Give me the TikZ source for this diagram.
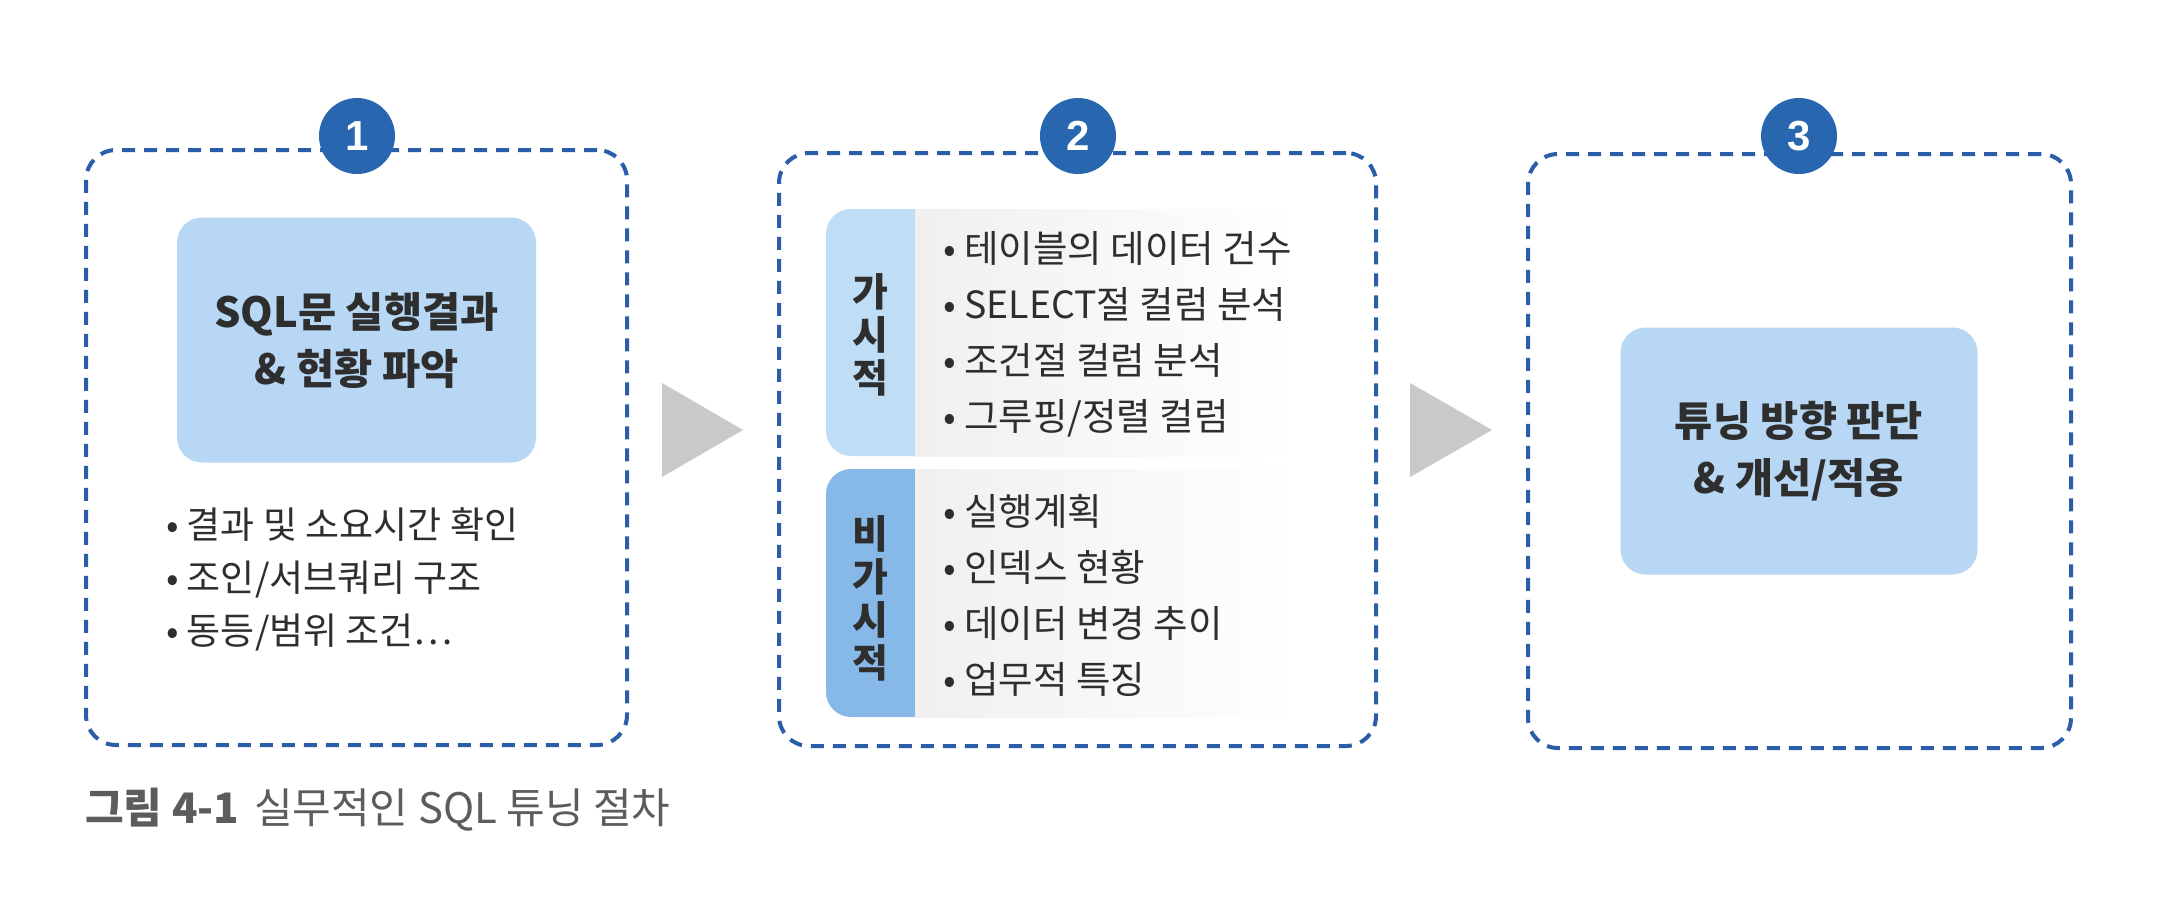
\documentclass[tikz,border=0pt]{standalone}
\usepackage{fontspec}
\setmainfont{Noto Sans CJK KR}
\newfontfamily\digitfont{Liberation Sans}
\definecolor{dashblue}{HTML}{2A5EA8}
\definecolor{numblue}{HTML}{2867B0}
\definecolor{boxblue}{HTML}{B7D7F4}
\definecolor{tabA}{HTML}{C0DDF6}
\definecolor{tabB}{HTML}{86B8E8}
\definecolor{arrowgray}{HTML}{C9C9C9}
\definecolor{txt}{HTML}{2E2E2E}
\definecolor{captgray}{HTML}{5C5C5C}
\newcommand{\bu}{•\hspace{0.22em}}
\begin{document}
\begin{tikzpicture}[x=1pt,y=-1pt,
  dashbox/.style={draw=dashblue, line width=4pt, dash pattern=on 13pt off 9pt, rounded corners=30pt, inner sep=0pt},
  numcircle/.style={circle, fill=numblue, minimum size=76pt, inner sep=0pt, text=white, font=\digitfont\bfseries\fontsize{42}{42}\selectfont},
  inbox/.style={rounded corners=25pt, fill=boxblue, align=center, inner sep=0pt, font=\bfseries\fontsize{41.5}{57}\selectfont, text=txt},
  bul/.style={anchor=west, align=left, text=txt, inner sep=0pt},
  tabtext/.style={align=center, inner sep=0pt, font=\bfseries\fontsize{39}{43}\selectfont, text=txt},
  arrowtri/.style={fill=arrowgray}]
\useasboundingbox (0,0) rectangle (2176,906);
\fill[white] (0,0) rectangle (2176,906);

% box 1
\node[dashbox, minimum width=541pt, minimum height=595pt] (box1) at (356.5,447.5) {};
\node[inbox, minimum width=359pt, minimum height=245pt] (t1) at (356.5,340) {SQL문 실행결과\\\& 현황 파악};
\node[bul, font=\fontsize{37}{53}\selectfont] (l1) at (166,579) {\bu 결과 및 소요시간 확인\\\bu 조인/서브쿼리 구조\\\bu 동등/범위 조건…};

% box 2
\node[dashbox, minimum width=597pt, minimum height=593pt] (box2) at (1077.5,449.5) {};
\fill[tabA, rounded corners=25pt] (826,209) rectangle (960,456);
\shade[left color=gray!12, right color=white] (915,209) rectangle (1300,456);
\fill[tabB, rounded corners=25pt] (826,469) rectangle (960,717);
\shade[left color=gray!12, right color=white] (915,469) rectangle (1300,717);
\node[tabtext] (ta) at (870,335) {가\\시\\적};
\node[tabtext] (tb) at (870,598) {비\\가\\시\\적};
\node[bul, font=\fontsize{37.5}{56}\selectfont] (la) at (943,334) {\bu 테이블의 데이터 건수\\\bu SELECT절 컬럼 분석\\\bu 조건절 컬럼 분석\\\bu 그루핑/정렬 컬럼};
\node[bul, font=\fontsize{37.5}{56}\selectfont] (lb) at (943,595) {\bu 실행계획\\\bu 인덱스 현황\\\bu 데이터 변경 추이\\\bu 업무적 특징};

% box 3
\node[dashbox, minimum width=543pt, minimum height=594pt] (box3) at (1799.5,451) {};
\node[inbox, minimum width=357pt, minimum height=247pt] (t3) at (1799,451) {튜닝 방향 판단\\\& 개선/적용};

% arrows
\fill[arrowtri] (662,383) -- (743,430) -- (662,477) -- cycle;
\fill[arrowtri] (1410,383) -- (1492,430) -- (1410,477) -- cycle;

% number circles
\node[numcircle] (c1) at (357,136) {1};
\node[numcircle] (c2) at (1078,136) {2};
\node[numcircle] (c3) at (1799,136) {3};

% caption
\node[anchor=west, text=captgray, inner sep=0pt, font=\fontsize{42}{42}\selectfont] (cap) at (85,810) {\textbf{그림 4-1}\hspace{0.35em}실무적인 SQL 튜닝 절차};
\end{tikzpicture}
\end{document}
